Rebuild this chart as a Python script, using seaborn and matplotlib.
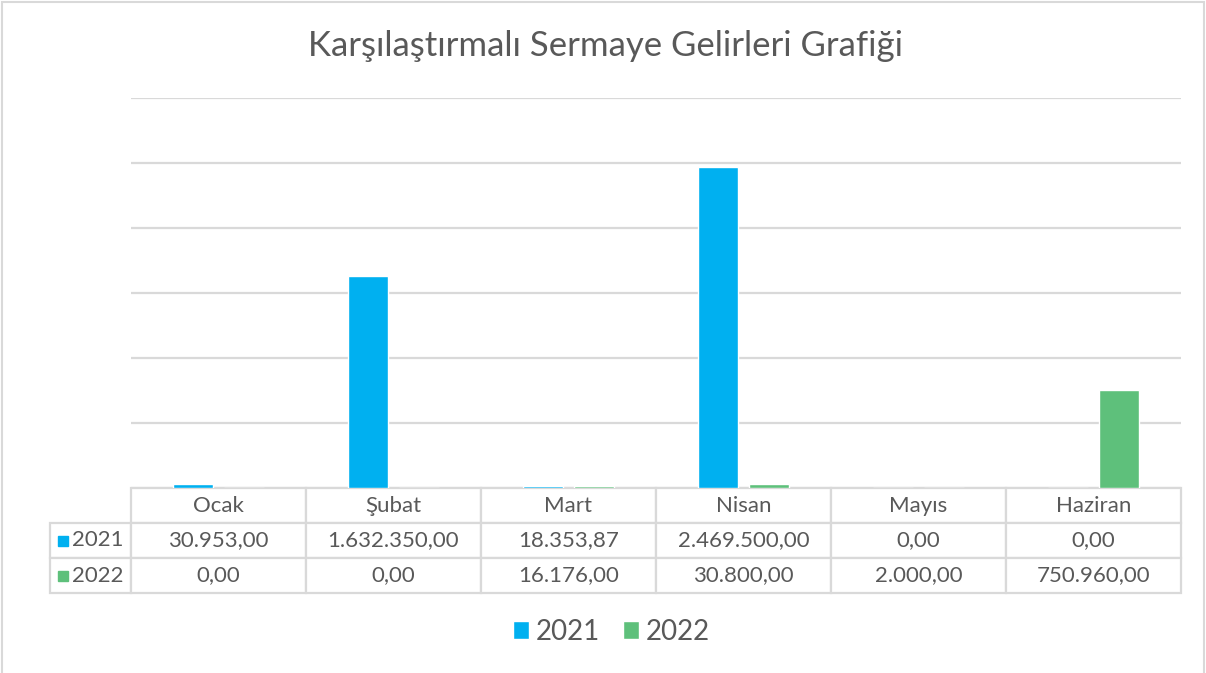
import pandas as pd
import numpy as np
import matplotlib.pyplot as plt
from matplotlib.patches import Rectangle
import seaborn as sns

months = ['Ocak', 'Şubat', 'Mart', 'Nisan', 'Mayıs', 'Haziran']
years = ['2021', '2022']
vals_2021 = [30953.00, 1632350.00, 18353.87, 2469500.00, 0.00, 0.00]
vals_2022 = [0.00, 0.00, 16176.00, 30800.00, 2000.00, 750960.00]
colors = ['#00B0F0', '#5EC07B']
grey_txt = '#595959'
grid_c = '#D9D9D9'

def tr_fmt(v):
    # turkish style: 1.632.350,00
    s = f'{v:,.2f}'
    return s.replace(',', '#').replace('.', ',').replace('#', '.')

df = pd.DataFrame({
    'month': months * 2,
    'year': ['2021'] * 6 + ['2022'] * 6,
    'value': vals_2021 + vals_2022,
})

sns.set_style('white')
plt.rcParams['font.family'] = ['Lato', 'DejaVu Sans']

W, H = 1206, 673
fig = plt.figure(figsize=(W / 100, H / 100), dpi=100)
ax = fig.add_axes([131 / W, 1 - 488 / H, 1050 / W, 390 / H])

sns.barplot(data=df, x='month', y='value', hue='year', palette=colors,
            width=0.583, gap=0.234, legend=True, ax=ax, saturation=1)

ax.set_ylim(0, 3000000)
ax.set_yticks(np.arange(0, 3000001, 500000))
ax.yaxis.grid(True, color=grid_c, linewidth=1.6)
ax.set_axisbelow(True)
ax.tick_params(left=False, bottom=False, labelleft=False, labelbottom=False)
ax.set_xlabel('')
ax.set_ylabel('')
for sp in ax.spines.values():
    sp.set_visible(False)

# data table under the bars
cell_text = [[''] + months,
             ['2021'] + [tr_fmt(v) for v in vals_2021],
             ['2022'] + [tr_fmt(v) for v in vals_2022]]
col_ws = [81 / 1131] + [175 / 1131] * 6
tbl = ax.table(cellText=cell_text, colWidths=col_ws, cellLoc='center',
               bbox=[-81 / 1050, -105 / 390, 1131 / 1050, 105 / 390])
tbl.auto_set_font_size(False)
for (r, c), cell in tbl.get_celld().items():
    cell.set_edgecolor(grid_c)
    cell.set_linewidth(1.6)
    cell.get_text().set_fontsize(16)
    cell.get_text().set_color(grey_txt)
    if r == 0 and c == 0:
        cell.set_edgecolor('none')
    if c == 0 and r > 0:
        cell.get_text().set_horizontalalignment('left')
        cell.PAD = 0.27

# small colour keys in the row label cells
for i, col in enumerate(colors):
    yc = (-52.5 - 35 * i) / 390
    ax.add_patch(Rectangle((-73 / 1050, yc - 5 / 390), 10 / 1050, 10 / 390,
                           transform=ax.transAxes, color=col, clip_on=False))

sns.move_legend(ax, 'center', bbox_to_anchor=(0.507, 1 - 632 / H),
                bbox_transform=fig.transFigure, ncol=2, frameon=False, title=None,
                fontsize=20, handlelength=0.6, handleheight=0.6,
                handletextpad=0.25, columnspacing=0.8)
for t in ax.get_legend().get_texts():
    t.set_color(grey_txt)

fig.text(0.502, 1 - 46 / H, 'Karşılaştırmalı Sermaye Gelirleri Grafiği',
         ha='center', va='center', fontsize=25, color=grey_txt)

# thin frame around the chart
fig.patches.append(Rectangle((2 / W, -0.01), 1 - 4 / W, 1 - 2 / H + 0.01,
                             transform=fig.transFigure, fill=False,
                             edgecolor=grid_c, linewidth=1.5))

fig.savefig('out.png', dpi=100)
